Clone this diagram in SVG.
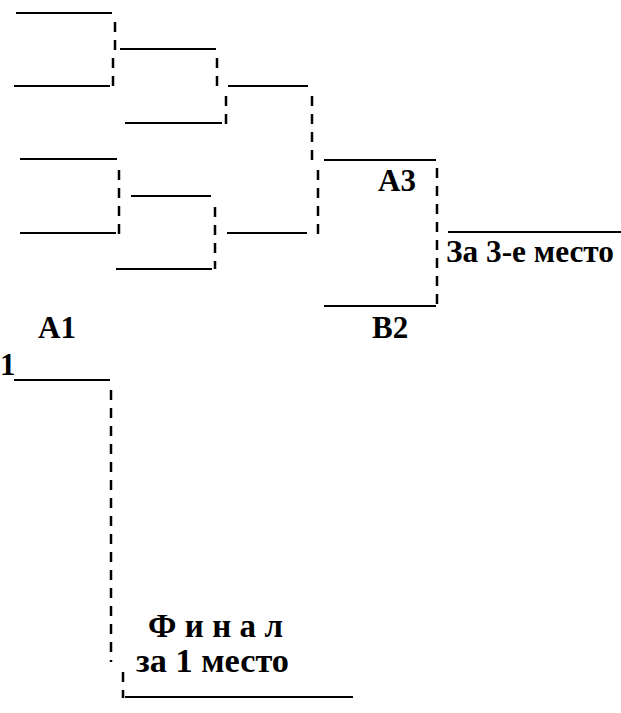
<svg xmlns="http://www.w3.org/2000/svg" width="621" height="713" viewBox="0 0 621 713">
<style>
.l{stroke:#000;stroke-width:2;fill:none}
.d{stroke:#000;stroke-width:2.5;fill:none;stroke-dasharray:10 8}
text{font-family:'Liberation Serif','Times New Roman',serif;font-weight:700;font-size:31px;fill:#000}
.c{font-size:33px}
</style>
<rect width="621" height="713" fill="#fff"/>
<g id="r1-1"><line class="l" x1="16" y1="13" x2="112" y2="13"/></g>
<g id="r1-2"><line class="l" x1="14" y1="86" x2="110" y2="86"/></g>
<g id="r1-3"><line class="l" x1="20" y1="159" x2="117" y2="159"/></g>
<g id="r1-4"><line class="l" x1="20" y1="233" x2="116" y2="233"/></g>
<g id="r2-1"><line class="l" x1="120" y1="49" x2="216" y2="49"/></g>
<g id="r2-2"><line class="l" x1="125" y1="123" x2="222" y2="123"/></g>
<g id="r2-3"><line class="l" x1="131" y1="196" x2="211" y2="196"/></g>
<g id="r2-4"><line class="l" x1="116" y1="269" x2="212" y2="269"/></g>
<g id="r3-1"><line class="l" x1="228" y1="86" x2="308" y2="86"/></g>
<g id="r3-2"><line class="l" x1="227" y1="233" x2="307" y2="233"/></g>
<g id="a3"><line class="l" x1="324" y1="160" x2="436" y2="160"/><text x="378" y="191">A3</text></g>
<g id="b2"><line class="l" x1="324" y1="306" x2="436" y2="306"/><text x="372" y="338">B2</text></g>
<g id="third"><line class="l" x1="448" y1="232" x2="621" y2="232"/><text x="446" y="262" textLength="168" lengthAdjust="spacingAndGlyphs">За 3-е место</text></g>
<g id="a1"><text x="38" y="338">A1</text></g>
<g id="one"><text x="0" y="375">1</text><line class="l" x1="14" y1="380" x2="110" y2="380"/></g>
<g id="final"><line class="l" x1="125" y1="697" x2="353" y2="697"/><text class="c" x="148" y="637" textLength="135">Ф и н а л</text><text class="c" x="136" y="672" textLength="153" lengthAdjust="spacingAndGlyphs">за 1 место</text></g>
<g id="connectors">
<line class="d" x1="115" y1="22" x2="115" y2="50"/>
<line class="d" x1="113" y1="58" x2="113" y2="87"/>
<line class="d" x1="217" y1="58" x2="217" y2="87"/>
<line class="d" x1="226" y1="96" x2="226" y2="124"/>
<line class="d" x1="312" y1="96" x2="312" y2="160"/>
<line class="d" x1="119" y1="170" x2="119" y2="234"/>
<line class="d" x1="215" y1="207" x2="215" y2="269"/>
<line class="d" x1="318" y1="170" x2="318" y2="234"/>
<line class="d" x1="437" y1="168" x2="437" y2="307"/>
<line class="d" x1="111" y1="390" x2="111" y2="662"/>
<line class="d" x1="123" y1="672" x2="123" y2="698"/>
</g>
</svg>
